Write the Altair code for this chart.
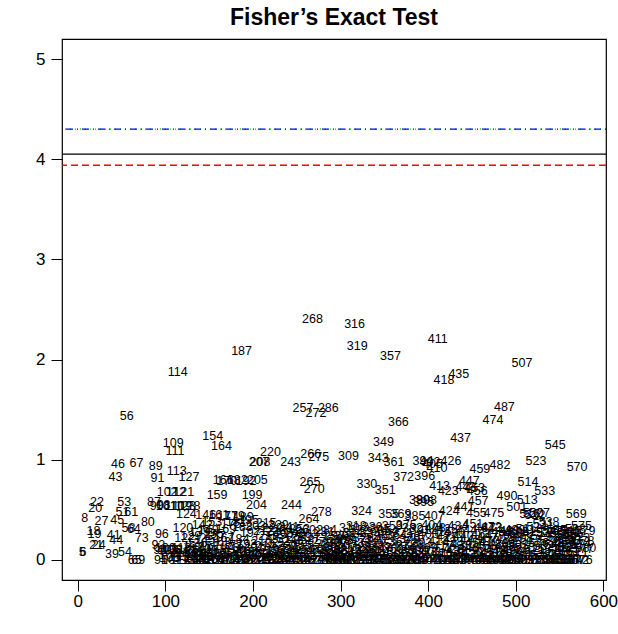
import altair as alt
import pandas as pd

# Labels shown in the sparse left part of the plot (index, value)
left_ids = [5, 6, 8, 18, 19, 20, 21, 22, 24, 27, 39, 41, 43, 44, 45, 46, 51, 53, 54, 56,
            58, 61, 64, 65, 67, 69, 73, 80, 87, 89, 90, 91, 92, 94, 95, 96, 98]
left_vals = [0.08, 0.08, 0.42, 0.29, 0.26, 0.52, 0.15, 0.58, 0.15, 0.39, 0.06, 0.25, 0.83, 0.20, 0.40, 0.96, 0.48, 0.58, 0.08, 1.44,
             0.32, 0.48, 0.31, 0.00, 0.97, 0.00, 0.22, 0.38, 0.58, 0.94, 0.54, 0.82, 0.15, 0.10, 0.00, 0.26, 0.55]

# Indices 100..580, -log10(p)
dense_vals = [
    0.12, 0.54, 0.68, 0.10, 0.05, 0.02, 0.10, 0.00, 0.10, 1.17,
    0.54, 1.09, 0.68, 0.89, 1.88, 0.03, 0.07, 0.00, 0.12, 0.54,
    0.32, 0.68, 0.22, 0.54, 0.46, 0.04, 0.10, 0.83, 0.54, 0.24,
    0.00, 0.08, 0.13, 0.02, 0.00, 0.06, 0.17, 0.00, 0.04, 0.28,
    0.11, 0.00, 0.35, 0.07, 0.02, 0.20, 0.45, 0.00, 0.09, 0.30,
    0.05, 0.14, 0.00, 0.38, 1.24, 0.26, 0.01, 0.24, 0.10, 0.65,
    0.03, 0.45, 0.00, 0.18, 1.14, 0.07, 0.80, 0.22, 0.00, 0.31,
    0.79, 0.44, 0.02, 0.12, 0.00, 0.36, 0.06, 0.15, 0.00, 0.44,
    0.09, 0.38, 0.80, 0.01, 0.21, 0.00, 0.11, 2.09, 0.33, 0.43,
    0.04, 0.00, 0.79, 0.16, 0.06, 0.40, 0.00, 0.27, 0.08, 0.65,
    0.02, 0.13, 0.00, 0.34, 0.55, 0.80, 0.05, 0.98, 0.98, 0.00,
    0.19, 0.07, 0.29, 0.00, 0.14, 0.37, 0.03, 0.00, 0.24, 0.10,
    1.08, 0.01, 0.32, 0.06, 0.00, 0.17, 0.28, 0.09, 0.00, 0.35,
    0.04, 0.21, 0.00, 0.11, 0.30, 0.02, 0.00, 0.26, 0.08, 0.14,
    0.00, 0.33, 0.05, 0.98, 0.55, 0.00, 0.19, 0.03, 0.27, 0.10,
    0.00, 0.23, 0.06, 0.31, 0.00, 0.15, 0.02, 1.52, 0.20, 0.10,
    0.30, 0.05, 0.00, 0.26, 0.41, 0.78, 1.06, 0.00, 2.41, 0.10,
    0.71, 0.00, 1.47, 0.22, 0.12, 1.03, 0.04, 0.00, 0.48, 0.18,
    0.07, 0.28, 0.00, 0.16, 0.30, 0.03, 1.52, 0.00, 0.10, 0.00,
    0.05, 0.00, 0.13, 0.24, 0.02, 0.00, 0.09, 0.18, 0.00, 0.21,
    0.03, 0.12, 0.00, 0.20, 0.07, 0.24, 0.00, 0.15, 0.02, 1.04,
    0.32, 0.00, 0.10, 0.05, 0.27, 0.00, 2.36, 0.19, 0.34, 2.14,
    0.08, 0.00, 0.30, 0.13, 0.49, 0.03, 0.22, 0.00, 0.11, 0.06,
    0.76, 0.17, 0.00, 0.28, 0.09, 0.00, 0.33, 0.00, 0.14, 0.04,
    0.20, 0.00, 0.26, 1.02, 0.07, 0.31, 0.00, 0.12, 0.02, 1.18,
    0.24, 0.70, 0.00, 0.16, 0.29, 0.46, 0.05, 2.04, 0.00, 0.34,
    0.11, 0.98, 0.00, 0.00, 0.25, 0.08, 1.38, 0.18, 0.00, 0.46,
    0.03, 0.27, 0.83, 0.00, 0.13, 0.35, 0.06, 0.00, 0.00, 0.21,
    0.10, 0.00, 0.32, 0.15, 0.04, 0.44, 0.00, 0.23, 0.00, 0.09,
    0.60, 0.30, 0.02, 0.17, 0.99, 0.58, 0.84, 0.00, 0.60, 0.12,
    0.26, 0.00, 0.98, 0.08, 0.35, 0.96, 0.04, 0.44, 0.32, 0.00,
    0.92, 2.21, 0.19, 0.74, 0.00, 0.28, 0.07, 0.14, 1.80, 0.00,
    0.00, 0.23, 0.31, 0.69, 0.49, 0.05, 0.99, 0.00, 0.18, 0.11,
    0.27, 0.00, 0.09, 0.00, 0.34, 1.86, 0.02, 1.22, 0.15, 0.00,
    0.24, 0.53, 0.06, 0.73, 0.30, 0.00, 0.12, 0.79, 0.20, 0.00,
    0.08, 0.36, 0.02, 0.72, 0.17, 0.47, 0.69, 0.59, 0.00, 0.91,
    0.11, 0.26, 0.00, 0.05, 0.32, 0.00, 0.14, 0.22, 0.03, 0.00,
    0.19, 0.07, 0.33, 0.32, 1.40, 0.47, 0.00, 0.25, 0.10, 0.00,
    0.16, 0.04, 0.95, 0.00, 0.28, 0.09, 0.00, 1.53, 0.13, 0.21,
    0.64, 0.00, 0.06, 0.29, 0.00, 0.18, 0.10, 0.00, 0.26, 0.30,
    0.03, 0.53, 0.00, 0.15, 0.27, 0.00, 0.08, 1.97, 0.22, 0.00,
    0.12, 0.31, 0.00, 0.60, 0.78, 0.04, 0.46, 0.20, 0.00, 0.28,
    0.47, 0.10, 0.45, 0.99, 0.33, 0.00, 0.17, 0.47, 0.05, 0.24,
    0.00, 0.36, 0.14, 0.69, 0.02, 0.27, 0.00, 0.11, 0.38, 0.19,
    0.06, 0.00, 0.29, 0.00, 0.15, 1.15, 0.00, 0.30, 0.08, 0.22,
    0.00, 0.27, 0.13, 0.00, 0.29, 0.04, 0.18, 0.00, 0.25, 0.12,
    0.00, 0.09, 0.28, 0.20, 0.00, 0.15, 0.26, 0.00, 0.31, 0.46,
    0.93, 0.07, 0.00, 0.22, 0.16, 0.34, 0.00, 0.11, 0.19, 0.29,
    0.12,
]
dense_ids = list(range(100, 100 + len(dense_vals)))

# Threshold lines
thr_values = [4.30, 4.30, 4.05, 3.94]
thr_colors = ["#00CD00", "#0000FF", "#000000", "#FF0000"]
thr_dash = [[1, 4], [1, 4, 7, 4], [1, 0], [7, 4]]

ids = left_ids + dense_ids
vals = left_vals + dense_vals
df = pd.DataFrame({"x": ids, "y": vals, "lab": [str(i) for i in ids]})

FONT = "Liberation Sans"
xscale = alt.Scale(domain=[-18, 603], nice=False, zero=False)
yscale = alt.Scale(domain=[-0.2, 5.2], nice=False, zero=False)

texts = alt.Chart(df).mark_text(font=FONT, fontSize=12.5, color="black").encode(
    x=alt.X("x:Q", scale=xscale,
            axis=alt.Axis(values=[0, 100, 200, 300, 400, 500, 600], title=None, grid=False,
                          format="d", domain=False, tickSize=11, tickColor="black",
                          labelColor="black", labelFont=FONT, labelFontSize=17, labelPadding=2)),
    y=alt.Y("y:Q", scale=yscale,
            axis=alt.Axis(values=[0, 1, 2, 3, 4, 5], title=None, grid=False, domain=False,
                          format="d", tickSize=11, tickColor="black", labelColor="black",
                          labelAngle=0, labelFont=FONT, labelFontSize=17, labelPadding=6)),
    text="lab:N",
)

layers = [texts]
for v, c, d in zip(thr_values, thr_colors, thr_dash):
    rdf = pd.DataFrame({"y": [v]})
    layers.append(
        alt.Chart(rdf).mark_rule(color=c, strokeWidth=1.3, strokeDash=d).encode(
            y=alt.Y("y:Q", scale=yscale)
        )
    )

chart = alt.layer(*layers).properties(
    width=544,
    height=541,
    title=alt.TitleParams("Fisher\u2019s Exact Test", font=FONT, fontSize=23, fontWeight="bold",
                          anchor="middle", color="black", offset=9),
    autosize=alt.AutoSizeParams(type="none"),
    padding={"left": 62, "top": 39, "right": 12, "bottom": 54},
).configure_view(stroke="black", strokeWidth=1.2)

chart.save("out.html", embed_options={"renderer": "svg", "actions": False})
